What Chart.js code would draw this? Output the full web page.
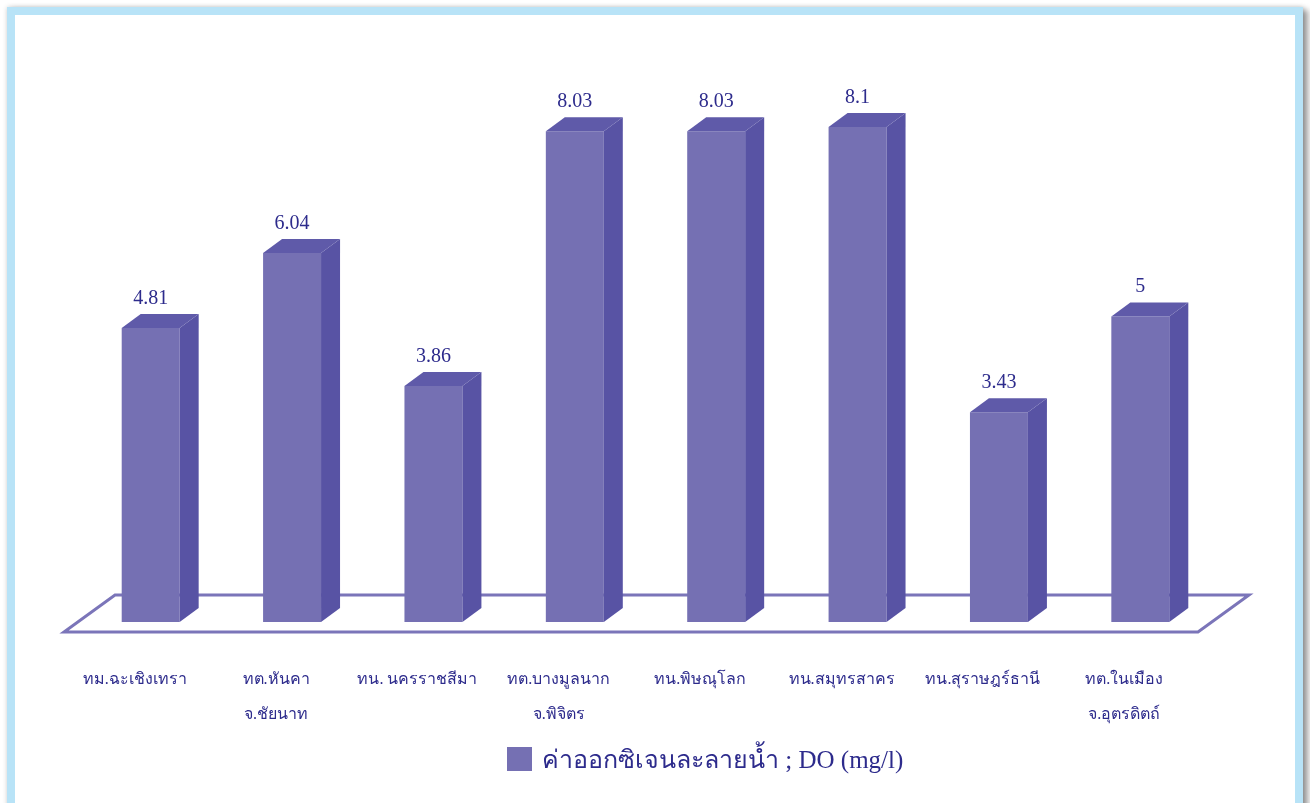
<!DOCTYPE html>
<html>
<head>
<meta charset="UTF-8">
<title>ค่าออกซิเจนละลายน้ำ DO</title>
<script src="https://cdn.jsdelivr.net/npm/chart.js@4.4.4/dist/chart.umd.min.js"></script>
<style>
html, body { margin: 0; padding: 0; background: #fff; overflow: hidden; }
#frame {
	position: absolute; left: 7px; top: 7px;
	width: 1296px; height: 806px; box-sizing: border-box;
	border: 8px solid #b8e3f7;
	box-shadow: 0 0 5px rgba(0,0,0,0.18), 5px 3px 6px rgba(0,0,0,0.38);
}
#doChart { position: absolute; left: 0; top: 0; z-index: 2; }
#doLegend {
	position: absolute; left: 507px; top: 739px; z-index: 3;
	display: flex; align-items: center;
	font-family: "Liberation Serif", serif; font-size: 25px; color: #2d2b8c;
}
#doLegend .box { width: 25px; height: 24px; margin-right: 10px; }
</style>
</head>
<body>
<div id="frame"></div>
<canvas id="doChart" width="1310" height="803"></canvas>
<div id="doLegend"></div>
<script>
// ข้อมูล: ค่าออกซิเจนละลายน้ำ (mg/l) แยกตามเทศบาล
const categories = [
	'ทม.ฉะเชิงเทรา',
	['ทต.หันคา', 'จ.ชัยนาท'],
	'ทน. นครราชสีมา',
	['ทต.บางมูลนาก', 'จ.พิจิตร'],
	'ทน.พิษณุโลก',
	'ทน.สมุทรสาคร',
	'ทน.สุราษฎร์ธานี',
	['ทต.ในเมือง', 'จ.อุตรดิตถ์']
];
const doValues = [4.81, 6.04, 3.86, 8.03, 8.03, 8.1, 3.43, 5];
const seriesLabel = 'ค่าออกซิเจนละลายน้ำ ; DO (mg/l)';

const frontColor = '#7570b3';
const sideColor = '#5853a4';
const topColor = '#5f5aa9';
const textColor = '#2d2b8c';
const depthX = 19, depthY = 14;

// พื้น 3 มิติ + ด้านข้าง/ด้านบนของแท่ง + ตัวเลขบนแท่ง
const bar3d = {
	id: 'bar3d',
	beforeDatasetsDraw(chart) {
		const a = chart.chartArea, ctx = chart.ctx;
		const fy = a.bottom + 10, by = a.bottom - 27, skew = 51;
		ctx.save();
		ctx.strokeStyle = '#7b75b9';
		ctx.lineWidth = 3;
		ctx.lineJoin = 'miter';
		ctx.beginPath();
		ctx.moveTo(a.left - 16, fy);
		ctx.lineTo(a.right - 13, fy);
		ctx.lineTo(a.right - 13 + skew, by);
		ctx.lineTo(a.left - 16 + skew, by);
		ctx.closePath();
		ctx.stroke();
		ctx.restore();
	},
	afterDatasetsDraw(chart) {
		const ctx = chart.ctx;
		const meta = chart.getDatasetMeta(0);
		ctx.save();
		meta.data.forEach((bar, i) => {
			const l = bar.x - bar.width / 2, r = bar.x + bar.width / 2;
			const t = bar.y, b = bar.base;
			// ด้านข้าง
			ctx.fillStyle = sideColor;
			ctx.beginPath();
			ctx.moveTo(r, t);
			ctx.lineTo(r + depthX, t - depthY);
			ctx.lineTo(r + depthX, b - depthY);
			ctx.lineTo(r, b);
			ctx.closePath();
			ctx.fill();
			// ด้านบน
			ctx.fillStyle = topColor;
			ctx.beginPath();
			ctx.moveTo(l, t);
			ctx.lineTo(l + depthX, t - depthY);
			ctx.lineTo(r + depthX, t - depthY);
			ctx.lineTo(r, t);
			ctx.closePath();
			ctx.fill();
			// ค่า
			ctx.fillStyle = textColor;
			ctx.font = '20px "Liberation Serif", serif';
			ctx.textAlign = 'center';
			ctx.textBaseline = 'alphabetic';
			ctx.fillText(String(doValues[i]), bar.x, t - 24);
		});
		ctx.restore();
	}
};

const ctx = document.getElementById('doChart').getContext('2d');
const doChart = new Chart(ctx, {
	type: 'bar',
	data: {
		labels: categories,
		datasets: [{
			label: seriesLabel,
			data: doValues,
			backgroundColor: frontColor,
			borderWidth: 0,
			barPercentage: 0.41,
			categoryPercentage: 1
		}]
	},
	options: {
		responsive: false,
		animation: false,
		layout: { padding: { left: 80, right: 99, top: 11, bottom: 39 } },
		plugins: {
			legend: { display: false },
			tooltip: { enabled: false }
		},
		scales: {
			x: {
				grid: { display: false },
				border: { display: false },
				ticks: {
					color: textColor,
					padding: 32,
					labelOffset: -16,
					maxRotation: 0,
					autoSkip: false,
					font: { family: '"Liberation Serif", serif', size: 16, lineHeight: 2.19 }
				}
			},
			y: { display: false, min: 0, max: 10 }
		}
	},
	plugins: [bar3d]
});

// คำอธิบายสัญลักษณ์
const ds = doChart.data.datasets[0];
document.getElementById('doLegend').innerHTML =
	'<span class="box" style="background:' + ds.backgroundColor + '"></span><span>' + ds.label + '</span>';
</script>
</body>
</html>
